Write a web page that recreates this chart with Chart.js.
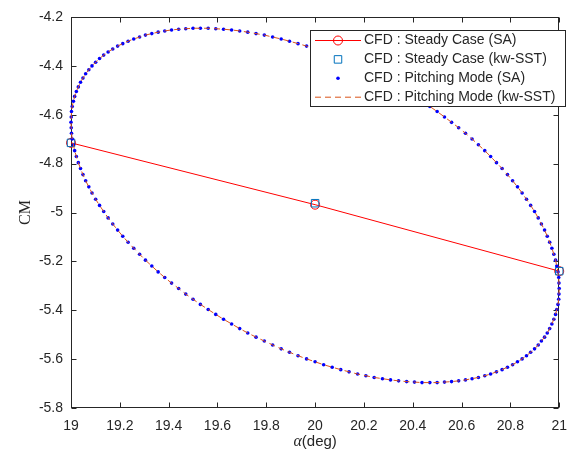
<!DOCTYPE html>
<html>
<head>
<meta charset="utf-8">
<script src="https://cdn.jsdelivr.net/npm/chart.js@4.4.1/dist/chart.umd.min.js"></script>
<style>
  html, body { margin: 0; padding: 0; background: #fff; }
  #wrap { width: 577px; height: 457px; }
</style>
</head>
<body>
<div id="wrap"><canvas id="cmChart" width="577" height="457"></canvas></div>
<script>
// steady runs at the three mean angles
const steadyAlpha = [19, 20, 21];
const steadyCmSA = [-4.715, -4.968, -5.240];
const steadyCmSST = [-4.715, -4.962, -5.240];

// one pitching cycle (alpha, CM) sampled along the hysteresis loop
const pitchAlpha = [
  20.000, 20.035, 20.070, 20.105, 20.139, 20.174, 20.208, 20.242, 20.276, 20.309,
  20.342, 20.375, 20.407, 20.438, 20.470, 20.500, 20.530, 20.559, 20.588, 20.616,
  20.643, 20.669, 20.695, 20.719, 20.743, 20.766, 20.788, 20.809, 20.829, 20.848,
  20.866, 20.883, 20.899, 20.914, 20.927, 20.940, 20.951, 20.961, 20.970, 20.978,
  20.985, 20.990, 20.995, 20.998, 20.999, 21.000, 20.999, 20.998, 20.995, 20.990,
  20.985, 20.978, 20.970, 20.961, 20.951, 20.940, 20.927, 20.914, 20.899, 20.883,
  20.866, 20.848, 20.829, 20.809, 20.788, 20.766, 20.743, 20.719, 20.695, 20.669,
  20.643, 20.616, 20.588, 20.559, 20.530, 20.500, 20.470, 20.438, 20.407, 20.375,
  20.342, 20.309, 20.276, 20.242, 20.208, 20.174, 20.139, 20.105, 20.070, 20.035,
  20.000, 19.965, 19.930, 19.895, 19.861, 19.826, 19.792, 19.758, 19.724, 19.691,
  19.658, 19.625, 19.593, 19.562, 19.530, 19.500, 19.470, 19.441, 19.412, 19.384,
  19.357, 19.331, 19.305, 19.281, 19.257, 19.234, 19.212, 19.191, 19.171, 19.152,
  19.134, 19.117, 19.101, 19.086, 19.073, 19.060, 19.049, 19.039, 19.030, 19.022,
  19.015, 19.010, 19.005, 19.002, 19.001, 19.000, 19.001, 19.002, 19.005, 19.010,
  19.015, 19.022, 19.030, 19.039, 19.049, 19.060, 19.073, 19.086, 19.101, 19.117,
  19.134, 19.152, 19.171, 19.191, 19.212, 19.234, 19.257, 19.281, 19.305, 19.331,
  19.357, 19.384, 19.412, 19.441, 19.470, 19.500, 19.530, 19.562, 19.593, 19.625,
  19.658, 19.691, 19.724, 19.758, 19.792, 19.826, 19.861, 19.895, 19.930, 19.965,
  20.000
];
const pitchCmSA = [
  -4.331, -4.343, -4.356, -4.370, -4.385, -4.400, -4.416, -4.432, -4.450, -4.467,
  -4.486, -4.505, -4.525, -4.545, -4.566, -4.587, -4.609, -4.631, -4.653, -4.676,
  -4.699, -4.723, -4.747, -4.771, -4.796, -4.820, -4.845, -4.870, -4.895, -4.920,
  -4.946, -4.971, -4.996, -5.022, -5.047, -5.072, -5.097, -5.122, -5.146, -5.171,
  -5.195, -5.219, -5.243, -5.266, -5.289, -5.311, -5.334, -5.355, -5.376, -5.397,
  -5.417, -5.437, -5.456, -5.475, -5.493, -5.510, -5.526, -5.542, -5.558, -5.572,
  -5.586, -5.599, -5.611, -5.623, -5.633, -5.643, -5.652, -5.661, -5.668, -5.675,
  -5.680, -5.685, -5.689, -5.692, -5.694, -5.696, -5.696, -5.696, -5.694, -5.692,
  -5.689, -5.685, -5.680, -5.675, -5.668, -5.661, -5.652, -5.643, -5.633, -5.623,
  -5.611, -5.599, -5.586, -5.572, -5.558, -5.542, -5.526, -5.510, -5.493, -5.475,
  -5.456, -5.437, -5.417, -5.397, -5.376, -5.355, -5.334, -5.311, -5.289, -5.266,
  -5.243, -5.219, -5.195, -5.171, -5.146, -5.122, -5.097, -5.072, -5.047, -5.022,
  -4.996, -4.971, -4.946, -4.920, -4.895, -4.870, -4.845, -4.820, -4.796, -4.771,
  -4.747, -4.723, -4.699, -4.676, -4.653, -4.631, -4.609, -4.587, -4.566, -4.545,
  -4.525, -4.505, -4.486, -4.467, -4.450, -4.432, -4.416, -4.400, -4.385, -4.370,
  -4.356, -4.343, -4.331, -4.319, -4.309, -4.299, -4.290, -4.282, -4.274, -4.268,
  -4.262, -4.257, -4.253, -4.250, -4.248, -4.246, -4.246, -4.246, -4.248, -4.250,
  -4.253, -4.257, -4.262, -4.268, -4.274, -4.282, -4.290, -4.299, -4.309, -4.319,
  -4.331
];
// the kw-SST loop sits right on the SA one at this scale
const pitchCmSST = pitchCmSA;

const xTickLabels = ['19', '19.2', '19.4', '19.6', '19.8', '20', '20.2', '20.4', '20.6', '20.8', '21'];
const yTickLabels = ['-5.8', '-5.6', '-5.4', '-5.2', '-5', '-4.8', '-4.6', '-4.4', '-4.2'];

const seriesNames = [
  'CFD : Steady Case (SA)',
  'CFD : Steady Case (kw-SST)',
  'CFD : Pitching Mode (SA)',
  'CFD : Pitching Mode (kw-SST)'
];

const axisColor = '#262626';
const sansFont = "'Liberation Sans', Arial, sans-serif";
const serifFont = "'Liberation Serif', 'Times New Roman', serif";

function toPoints(xs, ys) {
  return xs.map((x, i) => ({ x: x, y: ys[i] }));
}

// box round the plot with inward ticks on all four sides
const axesBox = {
  id: 'axesBox',
  beforeDatasetsDraw(chart) {
    const { ctx, chartArea: a, scales } = chart;
    const L = Math.round(a.left) + 0.5, R = Math.round(a.right) - 0.5;
    const T = Math.round(a.top) + 0.5, B = Math.round(a.bottom) - 0.5;
    const len = 5;
    ctx.save();
    ctx.strokeStyle = axisColor;
    ctx.lineWidth = 1;
    ctx.strokeRect(L, T, R - L, B - T);
    ctx.beginPath();
    scales.x.ticks.forEach(t => {
      const px = Math.round(scales.x.getPixelForValue(t.value)) + 0.5;
      ctx.moveTo(px, B); ctx.lineTo(px, B - len);
      ctx.moveTo(px, T); ctx.lineTo(px, T + len);
    });
    scales.y.ticks.forEach(t => {
      const py = Math.round(scales.y.getPixelForValue(t.value)) + 0.5;
      ctx.moveTo(L, py); ctx.lineTo(L + len, py);
      ctx.moveTo(R, py); ctx.lineTo(R - len, py);
    });
    ctx.stroke();
    ctx.restore();
  }
};

// x title: greek alpha in italic serif followed by the unit
const xTitle = {
  id: 'xTitle',
  afterDraw(chart) {
    const { ctx, chartArea: a } = chart;
    const cx = (a.left + a.right) / 2;
    const cy = 442;
    ctx.save();
    ctx.fillStyle = axisColor;
    ctx.textBaseline = 'middle';
    ctx.font = 'italic 16px ' + serifFont;
    const wA = ctx.measureText('α').width;
    ctx.font = '15px ' + sansFont;
    const wU = ctx.measureText('(deg)').width;
    let x = cx - (wA + wU) / 2;
    ctx.font = 'italic 16px ' + serifFont;
    ctx.fillText('α', x, cy);
    ctx.font = '15px ' + sansFont;
    ctx.fillText('(deg)', x + wA, cy);
    ctx.restore();
  }
};

// legend box in the upper right corner, drawn from each dataset's own style
const boxLegend = {
  id: 'boxLegend',
  afterDraw(chart) {
    const { ctx } = chart;
    const left = 310.5, top = 30.5, width = 255, height = 76;
    const x0 = 315, x1 = 361, mx = 338, tx = 364;
    ctx.save();
    ctx.fillStyle = '#ffffff';
    ctx.fillRect(left, top, width, height);
    ctx.strokeStyle = axisColor;
    ctx.lineWidth = 1;
    ctx.strokeRect(left, top, width, height);
    chart.data.datasets.forEach((ds, i) => {
      const y = 40.5 + i * 18.9;
      if (ds.showLine) {
        ctx.save();
        ctx.strokeStyle = ds.borderColor;
        ctx.lineWidth = ds.borderWidth;
        ctx.setLineDash(ds.borderDash || []);
        ctx.beginPath();
        ctx.moveTo(x0, y);
        ctx.lineTo(x1, y);
        ctx.stroke();
        ctx.restore();
      }
      if (ds.pointRadius > 0) {
        ctx.save();
        ctx.fillStyle = ds.pointBackgroundColor;
        ctx.strokeStyle = ds.pointBorderColor;
        ctx.lineWidth = ds.pointBorderWidth;
        Chart.helpers.drawPoint(ctx, {
          pointStyle: ds.pointStyle,
          radius: ds.pointRadius,
          borderWidth: ds.pointBorderWidth,
          rotation: 0
        }, mx, y);
        ctx.restore();
      }
      ctx.fillStyle = axisColor;
      ctx.font = '14px ' + sansFont;
      ctx.textBaseline = 'middle';
      ctx.fillText(ds.label, tx, y);
    });
    ctx.restore();
  }
};

const ctx = document.getElementById('cmChart').getContext('2d');
const cmChart = new Chart(ctx, {
  type: 'line',
  data: {
    datasets: [
      {
        label: seriesNames[0],
        data: toPoints(steadyAlpha, steadyCmSA),
        showLine: true,
        borderColor: '#ff0000',
        borderWidth: 1,
        pointStyle: 'circle',
        pointRadius: 4.5,
        pointBorderColor: '#ff0000',
        pointBackgroundColor: 'rgba(0,0,0,0)',
        pointBorderWidth: 1,
        clip: false,
        order: 4
      },
      {
        label: seriesNames[1],
        data: toPoints(steadyAlpha, steadyCmSST),
        showLine: false,
        pointStyle: 'rect',
        pointRadius: 5.3,
        pointBorderColor: '#0072BD',
        pointBackgroundColor: 'rgba(0,0,0,0)',
        pointBorderWidth: 1,
        clip: false,
        order: 3
      },
      {
        label: seriesNames[2],
        data: toPoints(pitchAlpha, pitchCmSA),
        showLine: false,
        pointStyle: 'circle',
        pointRadius: 1.8,
        pointBorderColor: '#0000ff',
        pointBackgroundColor: '#0000ff',
        pointBorderWidth: 0,
        clip: false,
        order: 2
      },
      {
        label: seriesNames[3],
        data: toPoints(pitchAlpha, pitchCmSST),
        showLine: true,
        borderColor: '#D95319',
        borderWidth: 1,
        borderDash: [6, 4],
        pointRadius: 0,
        clip: false,
        order: 1
      }
    ]
  },
  options: {
    responsive: false,
    animation: false,
    devicePixelRatio: 1,
    layout: { padding: { top: 17, right: 8, left: 0, bottom: 0 } },
    plugins: {
      legend: { display: false },
      tooltip: { enabled: false }
    },
    scales: {
      x: {
        type: 'linear',
        min: 19,
        max: 21,
        grid: { display: false, drawTicks: false },
        border: { display: false },
        afterBuildTicks: scale => { scale.ticks = xTickLabels.map(v => ({ value: Number(v) })); },
        afterFit: scale => { scale.height = 49; },
        ticks: {
          autoSkip: false,
          maxRotation: 0,
          padding: 10,
          color: axisColor,
          font: { family: sansFont, size: 14 },
          callback: (value, i) => xTickLabels[i]
        }
      },
      y: {
        type: 'linear',
        min: -5.8,
        max: -4.2,
        grid: { display: false, drawTicks: false },
        border: { display: false },
        afterBuildTicks: scale => { scale.ticks = yTickLabels.map(v => ({ value: Number(v) })); },
        afterFit: scale => { scale.width = 71; },
        ticks: {
          autoSkip: false,
          padding: 8,
          color: axisColor,
          font: { family: sansFont, size: 14 },
          callback: (value, i) => yTickLabels[i]
        },
        title: {
          display: true,
          text: 'CM',
          color: axisColor,
          font: { family: serifFont, size: 16 },
          padding: { top: 16, bottom: 0 }
        }
      }
    }
  },
  plugins: [axesBox, xTitle, boxLegend]
});
</script>
</body>
</html>
